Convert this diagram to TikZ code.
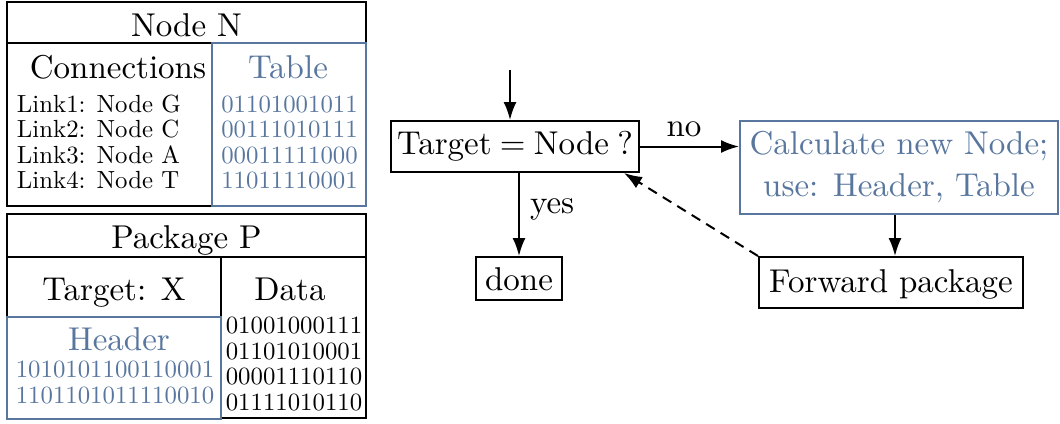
\documentclass[tikz,border=0pt]{standalone}
\usepackage{fontspec}
\setmainfont{lmroman10-regular}[Extension=.otf]
\usetikzlibrary{arrows.meta}
\definecolor{tblue}{RGB}{88,118,158}
\newcommand\bigf{\fontsize{16.5}{21}\selectfont}
\newcommand\smallf{\fontsize{12.4}{12.75}\selectfont}
\begin{document}
\begin{tikzpicture}[x=0.5pt,y=-0.5pt, line width=1pt,
  lbl/.style={inner sep=0pt, anchor=base},
  big/.style={lbl, font=\bigf},
  sm/.style={lbl, font=\smallf},
  fbox/.style={draw, font=\bigf, inner sep=0pt},
  arr/.style={-{Latex[length=9pt,width=6.5pt]}},
  dashedarr/.style={arr, dash pattern=on 5pt off 3.5pt}
]
\useasboundingbox (0,0) rectangle (1060,423);

% ---------- Node N ----------
\draw (7,2) rectangle (366,43);
\node[big] (nn) at (186.5,36) {Node N};
\draw (7,43) rectangle (212,206);
\node[big] (conn) at (118,78) {Connections};
\node[sm, anchor=base west] (l1) at (16,112) {Link1: Node G};
\node[sm, anchor=base west] (l2) at (16,137.5) {Link2: Node C};
\node[sm, anchor=base west] (l3) at (16,163) {Link3: Node A};
\node[sm, anchor=base west] (l4) at (16,188.5) {Link4: Node T};
\draw[tblue] (212,43) rectangle (366,206);
\node[big, tblue] (tab) at (288,78) {Table};
\node[sm, tblue] (t1) at (289.5,112) {01101001011};
\node[sm, tblue] (t2) at (289.5,137.5) {00111010111};
\node[sm, tblue] (t3) at (289.5,163) {00011111000};
\node[sm, tblue] (t4) at (289.5,188.5) {11011110001};

% ---------- Package P ----------
\draw (7,214) rectangle (366,257);
\node[big] (pp) at (186.5,248) {Package P};
\draw (7,257) rectangle (221,317);
\node[big] (tx) at (114,300) {Target: X};
\draw (221,257) rectangle (366,418);
\node[big] (data) at (290,300) {Data};
\node[sm] (d1) at (294,333) {01001000111};
\node[sm] (d2) at (294,359) {01101010001};
\node[sm] (d3) at (294,384.5) {00001110110};
\node[sm] (d4) at (294,410) {01111010110};
\draw[tblue] (7,317) rectangle (221,419);
\node[big, tblue] (hdr) at (119,350) {Header};
\node[sm, tblue] (h1) at (115,377) {1010101100110001};
\node[sm, tblue] (h2) at (115,403.5) {1101101011110010};

% ---------- Flowchart ----------
\node[fbox, anchor=base, text height=16.5pt, text depth=9pt, minimum width=124pt] (dec) at (515,154) {Target\hspace{0.25em}=\hspace{0.25em}Node\hspace{0.25em}?};
\coordinate (start) at (510,70);
\draw[arr] (start) -- (start |- dec.north);
\node[fbox, tblue, align=center, minimum width=159pt, minimum height=46.5pt] (calc) at (899,167.5) {Calculate new Node;\\use: Header, Table};
\node[fbox, anchor=base, text height=17.5pt, text depth=8pt, minimum width=132pt] (fwd) at (891,292) {Forward package};
\node[fbox, anchor=base, text height=16.5pt, text depth=5pt, minimum width=43pt] (done) at (519,290) {done};

\draw[arr] (dec.east) -- (dec.east -| calc.west);
\node[big] (no) at (684,136) {no};
\draw[arr] (done |- dec.south) -- (done.north);
\node[big, anchor=base west] (yes) at (529,213) {yes};
\draw[arr] ([xshift=-2pt]calc.south) -- ([xshift=-2pt]calc.south |- fwd.north);
\draw[dashedarr] (fwd.north west) -- ([xshift=-8pt]dec.south east);
\end{tikzpicture}
\end{document}
